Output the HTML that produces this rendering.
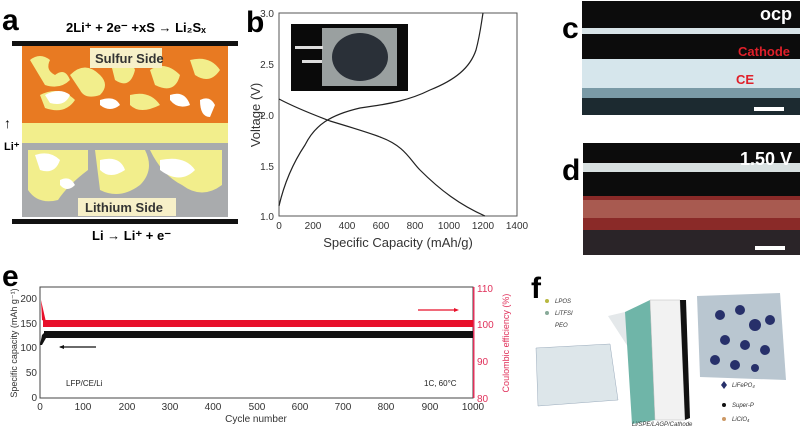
<!DOCTYPE html>
<html><head><meta charset="utf-8"><style>
body{margin:0;background:#fff;width:800px;height:427px;overflow:hidden}
svg{display:block}
text{font-family:"Liberation Sans",sans-serif}
</style></head><body>
<svg width="800" height="427" viewBox="0 0 800 427">
<!-- panel a -->
<text x="2" y="30" font-size="30" font-weight="bold">a</text>
<text x="66" y="32" font-size="13" font-weight="bold">2Li⁺ + 2e⁻ +xS → Li₂Sₓ</text>
<rect x="22" y="45" width="206" height="172" fill="#f2ee8c"/>
<rect x="22" y="45" width="206" height="78" fill="#e87a22"/>
<g fill="#f2ee8c">
<path d="M30 60 q10 -8 20 0 q-5 10 5 15 q10 -8 15 5 q-10 10 -25 5 z"/>
<path d="M70 75 q15 -15 30 0 q10 10 0 20 q-15 5 -20 -5 z"/>
<path d="M110 60 q20 -5 25 10 q-5 20 -20 10 z"/>
<path d="M150 70 q15 -10 30 5 q-5 20 -25 10 z"/>
<path d="M190 60 q20 -5 30 10 q-10 15 -25 5 z"/>
<path d="M40 95 q20 -10 35 5 q-10 15 -30 8 z"/>
<path d="M130 95 q20 -5 30 10 q-20 10 -30 0 z"/>
</g>
<g fill="#fff">
<path d="M45 95 q15 -8 25 0 q-5 12 -20 8 z"/>
<path d="M100 100 q15 -5 20 5 q-10 8 -20 0 z"/>
<path d="M170 95 q15 -5 20 10 q-12 5 -20 -5 z"/>
<path d="M200 100 q10 -5 15 5 l-5 12 q-10 0 -10 -17z"/>
</g>
<rect x="90" y="48" width="72" height="20" fill="#f7f0c8"/>
<text x="95" y="63" font-size="13" font-weight="bold" fill="#333">Sulfur Side</text>
<rect x="22" y="143" width="206" height="74" fill="#a9abad"/>
<g fill="#f2ee8c">
<path d="M28 150 h60 v20 q-20 15 -30 30 q-20 5 -30 -10 z"/>
<path d="M95 150 h50 q10 20 -5 35 q-20 15 -40 5 z"/>
<path d="M150 150 h72 v35 q-20 15 -40 0 q-20 -10 -32 -35 z"/>
</g>
<g fill="#fff">
<path d="M35 155 q15 -5 25 5 q-5 15 -20 10 z"/>
<path d="M100 160 q20 -5 25 10 q-15 10 -25 0 z"/>
<path d="M160 160 q25 -5 35 10 q-15 15 -35 0 z"/>
<path d="M60 180 q10 -5 15 5 q-8 8 -15 0z"/>
</g>
<rect x="78" y="198" width="98" height="18" fill="#f7f0c8"/>
<text x="85" y="212" font-size="13" font-weight="bold" fill="#333">Lithium Side</text>
<rect x="12" y="41" width="226" height="5" fill="#111"/>
<rect x="12" y="219" width="226" height="5" fill="#111"/>
<text x="4" y="128" font-size="14">↑</text>
<text x="4" y="150" font-size="11" font-weight="bold">Li⁺</text>
<text x="92" y="240" font-size="13" font-weight="bold">Li → Li⁺ + e⁻</text>
<!-- panel b -->
<text x="246" y="32" font-size="30" font-weight="bold">b</text>
<rect x="279" y="13" width="238" height="203" fill="none" stroke="#555" stroke-width="1"/>
<g font-size="10" fill="#333" text-anchor="end">
<text x="274" y="17">3.0</text><text x="274" y="68">2.5</text><text x="274" y="119">2.0</text><text x="274" y="170">1.5</text><text x="274" y="220">1.0</text>
</g>
<g font-size="10" fill="#333" text-anchor="middle">
<text x="279" y="229">0</text><text x="313" y="229">200</text><text x="347" y="229">400</text><text x="381" y="229">600</text><text x="415" y="229">800</text><text x="449" y="229">1000</text><text x="483" y="229">1200</text><text x="517" y="229">1400</text>
</g>
<text x="398" y="247" font-size="13" fill="#333" text-anchor="middle">Specific Capacity (mAh/g)</text>
<text transform="translate(260,115) rotate(-90)" font-size="13" fill="#333" text-anchor="middle">Voltage (V)</text>
<path d="M279 99 C300 110 320 117 330 121 C360 130 370 133 380 137 C405 146 410 160 420 170 C440 190 460 205 485 216" fill="none" stroke="#222" stroke-width="1.2"/>
<path d="M279 206 C285 180 295 160 305 145 C315 125 330 115 360 108 C390 104 410 100 430 90 C455 80 470 68 476 50 C480 35 481 25 483 13" fill="none" stroke="#222" stroke-width="1.2"/>
<rect x="291" y="24" width="117" height="67" fill="#0a0a0a"/>
<rect x="322" y="28" width="75" height="58" fill="#9aa0a0"/>
<ellipse cx="360" cy="57" rx="28" ry="24" fill="#2a3038"/>
<rect x="295" y="46" width="28" height="3" fill="#ddd"/><rect x="302" y="60" width="20" height="3" fill="#ddd"/>
<!-- panel c -->
<text x="562" y="38" font-size="30" font-weight="bold">c</text>
<rect x="582" y="1" width="218" height="114" fill="#0c0c0c"/>
<rect x="582" y="28" width="218" height="6" fill="#d8e4e8"/>
<rect x="582" y="59" width="218" height="38" fill="#d6e6ec"/>
<rect x="582" y="88" width="218" height="10" fill="#7a9aa6"/>
<rect x="582" y="98" width="218" height="17" fill="#1c2a30"/>
<text x="792" y="20" font-size="18" font-weight="bold" fill="#fff" text-anchor="end">ocp</text>
<text x="790" y="56" font-size="13" font-weight="bold" fill="#e0202a" text-anchor="end">Cathode</text>
<text x="736" y="84" font-size="13" font-weight="bold" fill="#e0202a">CE</text>
<rect x="754" y="107" width="30" height="4" fill="#fff"/>
<!-- panel d -->
<text x="562" y="180" font-size="30" font-weight="bold">d</text>
<rect x="583" y="143" width="217" height="112" fill="#0c0c0c"/>
<rect x="583" y="163" width="217" height="9" fill="#d8e0e0"/>
<rect x="583" y="196" width="217" height="34" fill="#8a2a28"/>
<rect x="583" y="200" width="217" height="18" fill="#a85a50"/>
<rect x="583" y="230" width="217" height="25" fill="#2a2428"/>
<text x="792" y="165" font-size="18" font-weight="bold" fill="#fff" text-anchor="end">1.50 V</text>
<rect x="755" y="246" width="30" height="4" fill="#fff"/>
<!-- panel e -->
<text x="2" y="286" font-size="30" font-weight="bold">e</text>
<rect x="40" y="287" width="433" height="111" fill="none" stroke="#444" stroke-width="1"/>
<g font-size="10" fill="#333" text-anchor="end">
<text x="37" y="302">200</text><text x="37" y="327">150</text><text x="37" y="351">100</text><text x="37" y="376">50</text><text x="37" y="401">0</text>
</g>
<g font-size="10" fill="#333" text-anchor="middle">
<text x="40" y="410">0</text><text x="83" y="410">100</text><text x="127" y="410">200</text><text x="170" y="410">300</text><text x="213" y="410">400</text><text x="257" y="410">500</text><text x="300" y="410">600</text><text x="343" y="410">700</text><text x="386" y="410">800</text><text x="430" y="410">900</text><text x="473" y="410">1000</text>
</g>
<text x="256" y="422" font-size="10" fill="#333" text-anchor="middle">Cycle number</text>
<text transform="translate(17,343) rotate(-90)" font-size="9" fill="#333" text-anchor="middle">Specific capacity (mAh g⁻¹)</text>
<rect x="473" y="287" width="1.5" height="111" fill="#e0305a"/>
<g font-size="10" fill="#e0305a">
<text x="477" y="292">110</text><text x="477" y="328">100</text><text x="477" y="365">90</text><text x="477" y="402">80</text>
</g>
<text transform="translate(509,343) rotate(-90)" font-size="9" fill="#e0305a" text-anchor="middle">Coulombic efficiency (%)</text>
<rect x="43" y="320" width="430" height="7" fill="#e8102a"/>
<path d="M41 300 L42 320 L46 322 Z" fill="#e8102a"/>
<rect x="44" y="331" width="429" height="7" fill="#111"/>
<path d="M40 345 L42 335 L46 331 L46 338 L42 345Z" fill="#111"/>
<line x1="60" y1="347" x2="96" y2="347" stroke="#111" stroke-width="1.2"/><path d="M59 347 l5 -2 v4z" fill="#111"/>
<line x1="418" y1="310" x2="456" y2="310" stroke="#e8102a" stroke-width="1.2"/><path d="M459 310 l-5 -2 v4z" fill="#e8102a"/>
<text x="66" y="386" font-size="8" fill="#222">LFP/CE/Li</text>
<text x="424" y="386" font-size="8" fill="#222">1C, 60°C</text>
<!-- panel f -->
<text x="531" y="298" font-size="30" font-weight="bold">f</text>
<g font-size="6" font-style="italic" fill="#333">
<circle cx="547" cy="301" r="2" fill="#b8b840"/><text x="555" y="303">LPOS</text>
<circle cx="547" cy="313" r="2" fill="#8a9"/><text x="555" y="315">LiTFSI</text>
<text x="555" y="327">PEO</text>
</g>
<path d="M536 348 L610 344 L618 400 L538 406Z" fill="#dde6ea" stroke="#9ab" stroke-width="0.5"/>
<path d="M608 316 L625 312 L648 328 L650 420 L632 424 L630 350 Z" fill="#e4e8ea"/>
<path d="M625 312 L650 300 L655 420 L632 424Z" fill="#6fb5a8"/>
<path d="M650 300 L680 300 L685 420 L655 420Z" fill="#f2f2f2" stroke="#bbb" stroke-width="0.5"/>
<path d="M680 300 L686 300 L690 418 L685 420Z" fill="#111"/>
<path d="M697 296 L780 293 L786 380 L700 377Z" fill="#b9c6d0"/>
<g fill="#27306a">
<circle cx="720" cy="315" r="5"/><circle cx="740" cy="310" r="5"/><circle cx="755" cy="325" r="6"/><circle cx="725" cy="340" r="5"/><circle cx="745" cy="345" r="5"/><circle cx="765" cy="350" r="5"/><circle cx="715" cy="360" r="5"/><circle cx="735" cy="365" r="5"/><circle cx="770" cy="320" r="5"/><circle cx="755" cy="368" r="4"/>
</g>
<g font-size="6" font-style="italic" fill="#333">
<path d="M721 385 l3 -4 l3 4 l-3 4z" fill="#27306a"/><text x="732" y="387">LiFePO₄</text>
<circle cx="724" cy="405" r="2" fill="#111"/><text x="732" y="407">Super-P</text>
<circle cx="724" cy="419" r="2" fill="#c96"/><text x="732" y="421">LiClO₄</text>
<text x="632" y="426">Li/SPE/LAGP/Cathode</text>
</g>
</svg>
</body></html>
